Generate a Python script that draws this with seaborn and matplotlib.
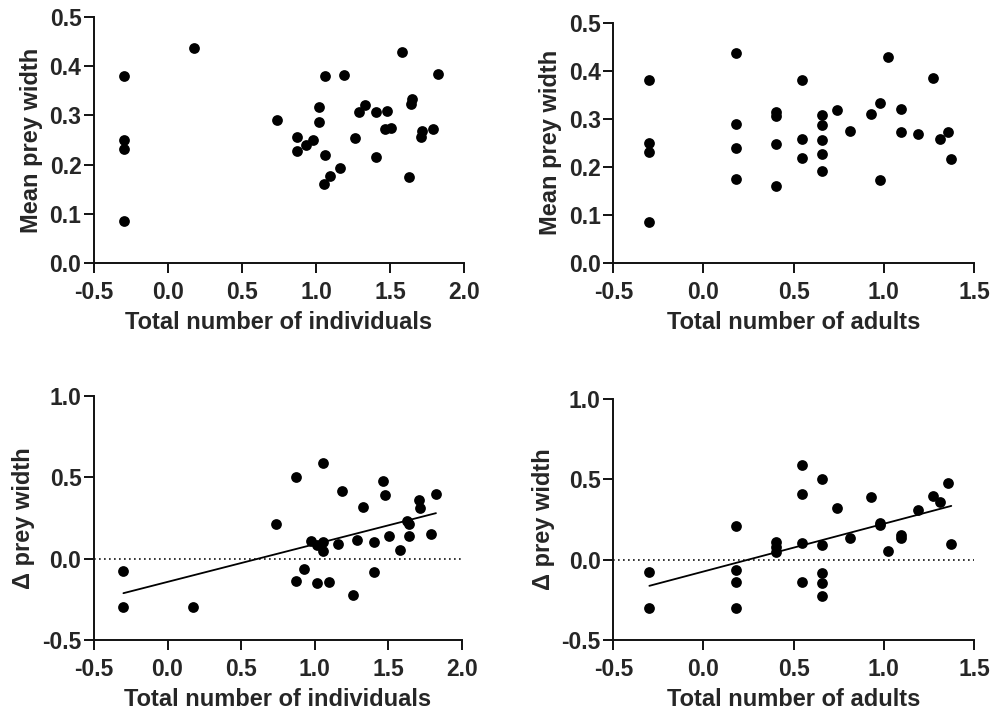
#!/usr/bin/env python3
"""
Prey width vs. group size: four-panel scatter (Prism style) redrawn with seaborn.
"""
import numpy as np
import pandas as pd
import matplotlib.pyplot as plt
import seaborn as sns

# --- data ------------------------------------------------------------------
# top left: mean prey width vs total number of individuals (log10)
ind_x = [-0.30, -0.30, -0.30, -0.30, 0.178, 0.739, 0.874, 0.874, 0.930, 0.977,
         1.020, 1.020, 1.059, 1.059, 1.057, 1.095, 1.162, 1.189, 1.266, 1.288,
         1.329, 1.403, 1.405, 1.466, 1.482, 1.509, 1.581, 1.628, 1.646, 1.644,
         1.707, 1.716, 1.793, 1.824]
ind_mean = [0.380, 0.251, 0.232, 0.086, 0.437, 0.291, 0.257, 0.228, 0.239, 0.249,
            0.316, 0.286, 0.380, 0.220, 0.160, 0.176, 0.193, 0.382, 0.255, 0.306,
            0.320, 0.307, 0.216, 0.273, 0.309, 0.274, 0.428, 0.174, 0.334, 0.322,
            0.257, 0.269, 0.273, 0.384]

# top right: mean prey width vs total number of adults (log10)
adu_x = [-0.30, -0.30, -0.30, -0.30, 0.178, 0.178, 0.178, 0.178, 0.402, 0.402,
         0.402, 0.402, 0.548, 0.548, 0.548, 0.657, 0.657, 0.657, 0.657, 0.657,
         0.740, 0.814, 0.931, 0.979, 0.981, 1.023, 1.097, 1.097, 1.189, 1.271,
         1.311, 1.354, 1.374]
adu_mean = [0.380, 0.250, 0.231, 0.085, 0.436, 0.290, 0.238, 0.175, 0.315, 0.306,
            0.248, 0.159, 0.381, 0.257, 0.219, 0.307, 0.286, 0.255, 0.227, 0.192,
            0.319, 0.274, 0.309, 0.333, 0.172, 0.428, 0.321, 0.273, 0.269, 0.385,
            0.257, 0.273, 0.216]

# bottom left: delta prey width vs total number of individuals
dind_x = [-0.30, -0.30, 0.175, 0.738, 0.874, 0.874, 0.928, 0.978, 1.019, 1.019,
          1.059, 1.059, 1.059, 1.096, 1.159, 1.186, 1.263, 1.286, 1.331, 1.404,
          1.404, 1.463, 1.481, 1.508, 1.580, 1.630, 1.644, 1.644, 1.708, 1.717,
          1.794, 1.825]
dind_y = [-0.078, -0.300, -0.300, 0.214, 0.502, -0.137, -0.065, 0.108, 0.084, -0.147,
          0.588, 0.104, 0.047, -0.143, 0.088, 0.414, -0.224, 0.116, 0.320, 0.100,
          -0.084, 0.480, 0.390, 0.137, 0.053, 0.231, 0.214, 0.137, 0.359, 0.310,
          0.153, 0.398]

# bottom right: delta prey width vs total number of adults
dadu_x = [-0.30, -0.30, 0.178, 0.178, 0.178, 0.178, 0.402, 0.402, 0.402, 0.548,
          0.548, 0.548, 0.548, 0.657, 0.657, 0.657, 0.657, 0.657, 0.740, 0.814,
          0.931, 0.979, 0.979, 1.023, 1.097, 1.097, 1.189, 1.271, 1.311, 1.354,
          1.374]
dadu_y = [-0.077, -0.301, 0.212, -0.067, -0.143, -0.301, 0.110, 0.079, 0.048, 0.588,
          0.412, 0.102, -0.139, 0.501, 0.089, -0.085, -0.148, -0.225, 0.320, 0.137,
          0.389, 0.229, 0.214, 0.052, 0.154, 0.137, 0.310, 0.397, 0.358, 0.480,
          0.100]

# --- style ------------------------------------------------------------------
sns.set_style("ticks")
plt.rcParams['font.family'] = ['Liberation Sans', 'DejaVu Sans']
plt.rcParams['font.weight'] = 'bold'
plt.rcParams['axes.labelweight'] = 'bold'

INK = '#111111'
W, H = 1002, 714
fig = plt.figure(figsize=(W / 100, H / 100), dpi=100)


def px_axes(left, right, top, bottom):
    """Axes from pixel box of the plotting area"""
    return fig.add_axes([left / W, 1 - bottom / H, (right - left) / W, (bottom - top) / H])


def style(ax, xlim, ylim, xticks, yticks, xlabel, ylabel):
    ax.set_xlim(*xlim)
    ax.set_ylim(*ylim)
    ax.set_xticks(xticks)
    ax.set_yticks(yticks)
    ax.xaxis.set_major_formatter(plt.FormatStrFormatter('%.1f'))
    ax.yaxis.set_major_formatter(plt.FormatStrFormatter('%.1f'))
    ax.set_xlabel(xlabel, fontsize=17, fontweight='bold', labelpad=5)
    ax.set_ylabel(ylabel, fontsize=17, fontweight='bold', labelpad=5)
    ax.tick_params(axis='x', direction='out', length=7, width=1.4,
                   color=INK, labelsize=16.5, pad=6)
    ax.tick_params(axis='y', direction='out', length=7, width=1.4,
                   color=INK, labelsize=16.5, pad=2)
    for lab in ax.get_xticklabels() + ax.get_yticklabels():
        lab.set_fontweight('bold')
    sns.despine(ax=ax)
    for side in ('left', 'bottom'):
        ax.spines[side].set_linewidth(1.4)
        ax.spines[side].set_color(INK)


def scatter(ax, x, y):
    df = pd.DataFrame({'x': x, 'y': y})
    sns.scatterplot(data=df, x='x', y='y', ax=ax, color='black', s=60,
                    linewidth=0, clip_on=False, zorder=3)
    return df


# top left
ax1 = px_axes(94, 464, 16.7, 263.3)
scatter(ax1, ind_x, ind_mean)
style(ax1, (-0.5, 2.0), (0, 0.5), np.arange(-0.5, 2.01, 0.5), np.arange(0, 0.51, 0.1),
      'Total number of individuals', 'Mean prey width')

# top right
ax2 = px_axes(613.3, 974, 22.7, 262.7)
scatter(ax2, adu_x, adu_mean)
style(ax2, (-0.5, 1.5), (0, 0.5), np.arange(-0.5, 1.51, 0.5), np.arange(0, 0.51, 0.1),
      'Total number of adults', 'Mean prey width')

# bottom left
ax3 = px_axes(94, 461.7, 396, 640)
ax3.axhline(0, color=INK, linestyle=(0, (1, 2)), linewidth=1.2, zorder=1)
df3 = scatter(ax3, dind_x, dind_y)
sns.regplot(data=df3, x='x', y='y', ax=ax3, scatter=False, ci=None, truncate=True,
            line_kws={'color': 'black', 'linewidth': 1.3})
style(ax3, (-0.5, 2.0), (-0.5, 1.0), np.arange(-0.5, 2.01, 0.5), np.arange(-0.5, 1.01, 0.5),
      'Total number of individuals', '\u0394 prey width')

# bottom right
ax4 = px_axes(613.3, 974, 399.3, 639.7)
ax4.axhline(0, color=INK, linestyle=(0, (1, 2)), linewidth=1.2, zorder=1)
df4 = scatter(ax4, dadu_x, dadu_y)
sns.regplot(data=df4, x='x', y='y', ax=ax4, scatter=False, ci=None, truncate=True,
            line_kws={'color': 'black', 'linewidth': 1.3})
style(ax4, (-0.5, 1.5), (-0.5, 1.0), np.arange(-0.5, 1.51, 0.5), np.arange(-0.5, 1.01, 0.5),
      'Total number of adults', '\u0394 prey width')

fig.savefig('out.png', dpi=100)
plt.close(fig)
